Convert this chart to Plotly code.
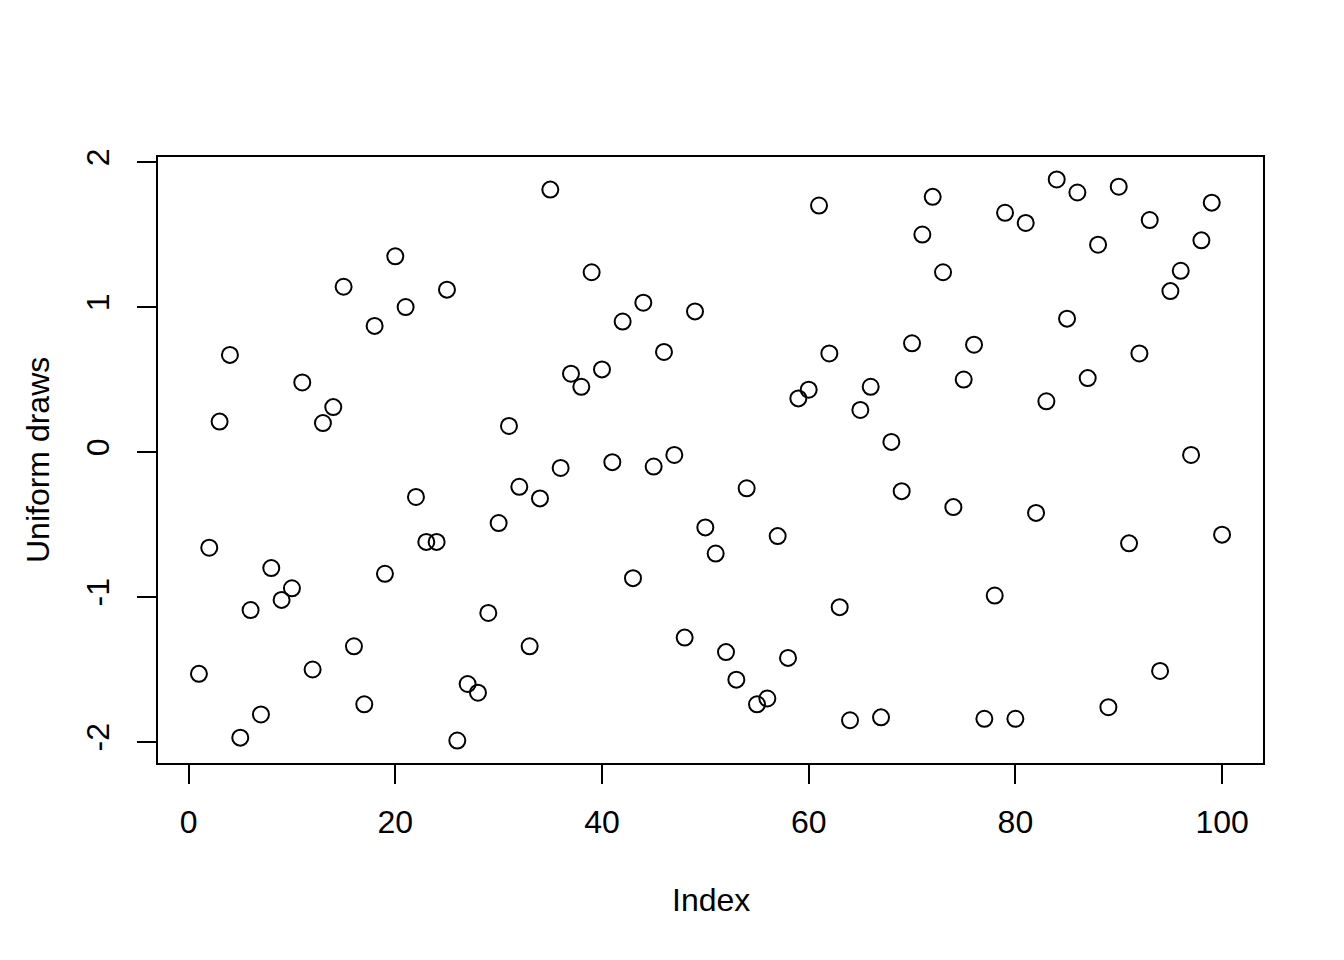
import plotly.graph_objects as go

index = list(range(1, 101))
draws = [
    -1.53, -0.66, 0.21, 0.67, -1.97, -1.09, -1.81, -0.80, -1.02, -0.94,
    0.48, -1.50, 0.20, 0.31, 1.14, -1.34, -1.74, 0.87, -0.84, 1.35,
    1.00, -0.31, -0.62, -0.62, 1.12, -1.99, -1.60, -1.66, -1.11, -0.49,
    0.18, -0.24, -1.34, -0.32, 1.81, -0.11, 0.54, 0.45, 1.24, 0.57,
    -0.07, 0.90, -0.87, 1.03, -0.10, 0.69, -0.02, -1.28, 0.97, -0.52,
    -0.70, -1.38, -1.57, -0.25, -1.74, -1.70, -0.58, -1.42, 0.37, 0.43,
    1.70, 0.68, -1.07, -1.85, 0.29, 0.45, -1.83, 0.07, -0.27, 0.75,
    1.50, 1.76, 1.24, -0.38, 0.50, 0.74, -1.84, -0.99, 1.65, -1.84,
    1.58, -0.42, 0.35, 1.88, 0.92, 1.79, 0.51, 1.43, -1.76, 1.83,
    -0.63, 0.68, 1.60, -1.51, 1.11, 1.25, -0.02, 1.46, 1.72, -0.57,
]
x_ticks = [0, 20, 40, 60, 80, 100]
y_ticks = [-2, -1, 0, 1, 2]
x_label = "Index"
y_label = "Uniform draws"

FONT = "Liberation Sans, Arial, Helvetica, sans-serif"
FS = 32

fig = go.Figure(
    go.Scatter(
        x=index, y=draws, mode="markers",
        marker=dict(symbol="circle-open", size=16, color="black",
                    line=dict(width=2, color="black")),
        hoverinfo="x+y",
    )
)

def pad(lo, hi):
    d = (hi - lo) * 0.04
    return [lo - d, hi + d]

fig.update_layout(
    width=1336, height=952,
    margin=dict(l=150, r=81, t=149, b=197),
    paper_bgcolor="white", plot_bgcolor="white",
    showlegend=False,
    font=dict(family=FONT, size=FS, color="black"),
    xaxis=dict(
        range=pad(min(index), max(index)),
        tickmode="array", tickvals=x_ticks, ticktext=[str(v) for v in x_ticks],
        showgrid=False, zeroline=False,
        showline=True, mirror=True, linecolor="black", linewidth=2,
        ticks="outside", ticklen=19, tickwidth=2, tickcolor="black",
        ticklabelstandoff=11,
        tickfont=dict(family=FONT, size=FS, color="black"),
    ),
    yaxis=dict(
        range=pad(min(draws), max(draws)),
        tickmode="array", tickvals=y_ticks, ticktext=[str(v) for v in y_ticks],
        showgrid=False, zeroline=False,
        showline=True, mirror=True, linecolor="black", linewidth=2,
        ticks="outside", ticklen=19, tickwidth=2, tickcolor="black",
        tickangle=-90, ticklabelstandoff=15,
        tickfont=dict(family=FONT, size=FS, color="black"),
    ),
    annotations=[
        dict(text=x_label, xref="paper", yref="paper", x=0.5, y=0,
             yshift=-137, showarrow=False, xanchor="center", yanchor="middle",
             font=dict(family=FONT, size=FS, color="black")),
        dict(text=y_label, xref="paper", yref="paper", x=0, y=0.5,
             xshift=-120, showarrow=False, xanchor="center", yanchor="middle",
             textangle=-90,
             font=dict(family=FONT, size=FS, color="black")),
    ],
)

fig.write_html("out.html")
